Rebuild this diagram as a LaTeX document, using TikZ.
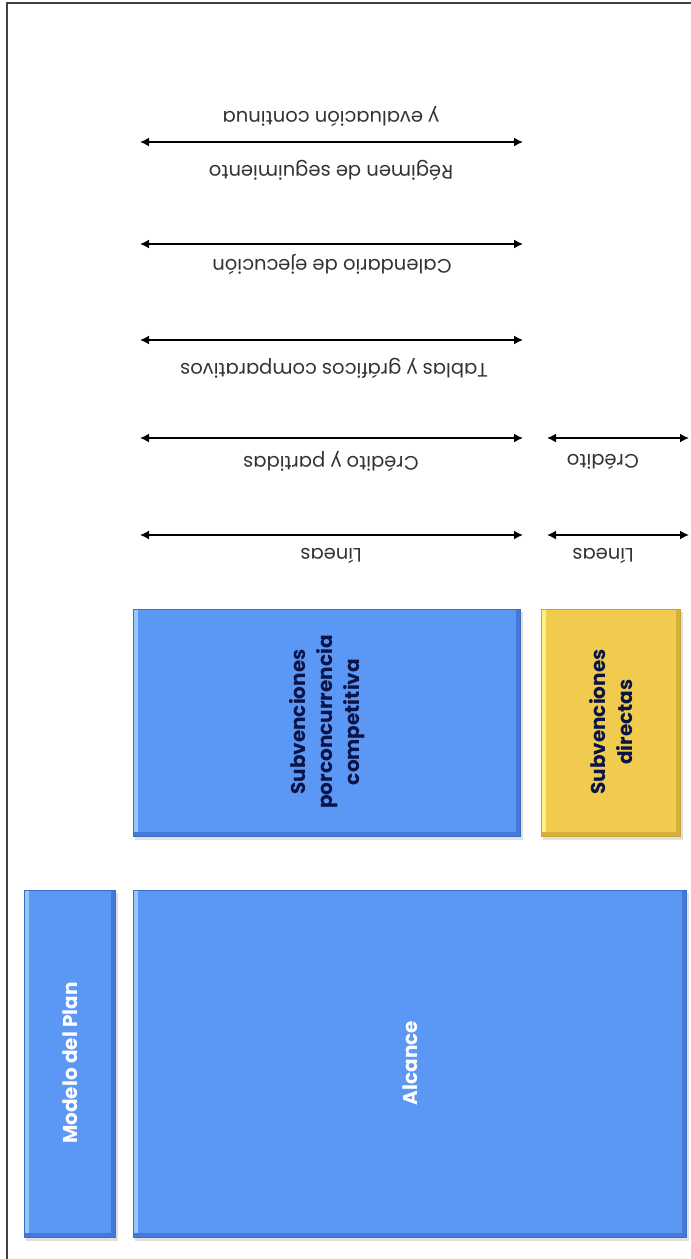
\documentclass[tikz,border=0pt]{standalone}
\usepackage{fontspec}
\setmainfont{Poppins}
\usetikzlibrary{arrows.meta}
\definecolor{boxblue}{RGB}{91,151,245}
\definecolor{boxblueedge}{RGB}{60,110,200}
\definecolor{boxbluelight}{RGB}{150,200,252}
\definecolor{boxbluedark}{RGB}{70,120,215}
\definecolor{boxyellow}{RGB}{240,203,78}
\definecolor{boxyellowedge}{RGB}{200,165,50}
\definecolor{boxyellowlight}{RGB}{255,240,130}
\definecolor{boxyellowdark}{RGB}{215,175,60}
\definecolor{navytext}{RGB}{10,20,70}
\tikzset{
  dimarrow/.style={line width=1.6pt, {Latex[length=9pt,width=9pt]}-{Latex[length=9pt,width=9pt]}},
  armlabel/.style={rotate=180, font=\fontsize{19.5}{22}\selectfont, text=black!80, inner sep=0pt},
  bluebox/.style={fill=boxblue, draw=boxblueedge, line width=1pt},
  yellowbox/.style={fill=boxyellow, draw=boxyellowedge, line width=1pt},
  boxshadow/.style={fill=black!12},
  boxtext/.style={rotate=90, align=center, font=\fontsize{20}{27}\selectfont\bfseries, inner sep=0pt},
}
\begin{document}
\begin{tikzpicture}[x=1pt,y=-1pt]
\useasboundingbox (0,0) rectangle (691,1259);
\fill[white] (0,0) rectangle (691,1259);
% frame
\draw[line width=1.2pt, black!75] (691,3) -- (7,3) -- (7,1259);

% long arrows
\coordinate (r1) at (140,142); \coordinate (r2) at (523,142);
\coordinate (c1) at (140,244); \coordinate (c2) at (523,244);
\coordinate (t1) at (140,340); \coordinate (t2) at (523,340);
\coordinate (p1) at (140,438); \coordinate (p2) at (523,438);
\coordinate (l1) at (140,535); \coordinate (l2) at (523,535);
% short arrows
\coordinate (pd1) at (547,438); \coordinate (pd2) at (689,438);
\coordinate (ld1) at (547,535); \coordinate (ld2) at (689,535);

\draw[dimarrow] (r1) -- (r2);
\draw[dimarrow] (c1) -- (c2);
\draw[dimarrow] (t1) -- (t2);
\draw[dimarrow] (p1) -- (p2);
\draw[dimarrow] (l1) -- (l2);
\draw[dimarrow] (pd1) -- (pd2);
\draw[dimarrow] (ld1) -- (ld2);

\node[armlabel] (reg2) at (331,117) {y evaluación continua};
\node[armlabel] (reg1) at (331,170) {Régimen de seguimiento};
\node[armlabel] (cal) at (332,265) {Calendario de ejecución};
\node[armlabel] (tab) at (334,368) {Tablas y gráficos comparativos};
\node[armlabel] (cre) at (331,462) {Crédito y partidas};
\node[armlabel] (lin) at (331,556) {Líneas};
\node[armlabel] (cred) at (603,462) {Crédito};
\node[armlabel] (lind) at (603,556) {Líneas};

% boxes
\fill[boxshadow] (135,612) rectangle (523,840);
\path[bluebox] (133,609) rectangle (520,836);
\fill[boxbluelight] (133.5,609.5) rectangle (138,835.5);
\fill[boxbluedark] (516,609.5) rectangle (519.5,835.5);
\fill[boxbluedark] (133.5,832) rectangle (519.5,835.5);
\node[boxtext, text=navytext] (conc) at (327,722) {Subvenciones\\porconcurrencia\\competitiva};

\fill[boxshadow] (543,612) rectangle (683,840);
\path[yellowbox] (541,609) rectangle (680,836);
\fill[boxyellowlight] (541.5,609.5) rectangle (546,835.5);
\fill[boxyellowdark] (676,609.5) rectangle (679.5,835.5);
\fill[boxyellowdark] (541.5,832) rectangle (679.5,835.5);
\node[boxtext, text=navytext] (dir) at (611,722) {Subvenciones\\directas};

\fill[boxshadow] (26,893) rectangle (118,1241);
\path[bluebox] (24,890) rectangle (115,1237);
\fill[boxbluelight] (24.5,890.5) rectangle (29,1236.5);
\fill[boxbluedark] (111,890.5) rectangle (114.5,1236.5);
\fill[boxbluedark] (24.5,1233) rectangle (114.5,1236.5);
\node[boxtext, text=white] (mod) at (70,1063) {Modelo del Plan};

\fill[boxshadow] (135,893) rectangle (689,1241);
\path[bluebox] (133,890) rectangle (686,1237);
\fill[boxbluelight] (133.5,890.5) rectangle (138,1236.5);
\fill[boxbluedark] (682,890.5) rectangle (685.5,1236.5);
\fill[boxbluedark] (133.5,1233) rectangle (685.5,1236.5);
\node[boxtext, text=white] (alc) at (410,1063) {Alcance};
\end{tikzpicture}
\end{document}
